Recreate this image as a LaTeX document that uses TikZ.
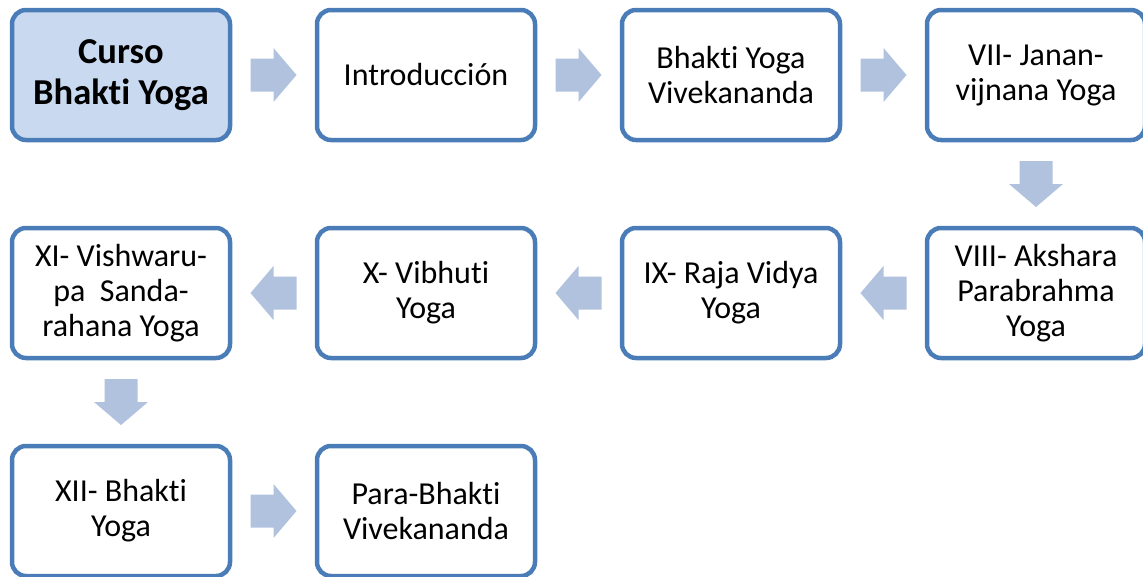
\documentclass[tikz,border=0pt]{standalone}
\usepackage{fontspec}
\setmainfont{Carlito}[Ligatures={NoCommon}]
\usetikzlibrary{calc}
\definecolor{boxline}{HTML}{4A7DB8}
\definecolor{boxfill}{HTML}{C9DAF0}
\definecolor{arrowfill}{HTML}{B1C2DE}
\tikzset{blockarrow/.pic={
        \fill[arrowfill] (-23,-16.5) -- (0,-16.5) -- (0,-27) -- (23,0) -- (0,27) -- (0,16.5) -- (-23,16.5) -- cycle;}}

\begin{document}
\begin{tikzpicture}[x=1pt,y=-1pt]
        \tikzstyle{every node}=[align=center,font=\fontsize{32}{35}\selectfont]
        \tikzstyle{box}=[draw=boxline,fill=white,line width=4.5pt,rounded corners=14pt,minimum width=218pt,minimum height=130pt,inner sep=0pt]
        \tikzstyle{first}=[box,fill=boxfill,font=\fontsize{36.5}{41}\selectfont\bfseries]
        \useasboundingbox (0,0) rectangle (1143,576);
        % first row
        \node[first] (curso) at (121,75) {Curso\\Bhakti Yoga};
        \node[box] (intro) at (426,75) {Introducción};
        \node[box] (viv) at (731,75) {Bhakti Yoga\\Vivekananda};
        \node[box] (vii) at (1036,75) {VII- Janan-\\vijnana Yoga};
        % second row
        \node[box] (viii) at (1036,293) {VIII- Akshara\\Parabrahma\\Yoga};
        \node[box] (ix) at (731,293) {IX- Raja Vidya\\Yoga};
        \node[box] (x) at (426,293) {X- Vibhuti\\Yoga};
        \node[box] (xi) at (121,293) {XI- Vishwaru-\\pa\ \ Sanda-\\rahana Yoga};
        % third row
        \node[box] (xii) at (121,511) {XII- Bhakti\\Yoga};
        \node[box] (para) at (426,511) {Para-Bhakti\\Vivekananda};
        % arrows
        \pic (a1) at ($(curso)!0.5!(intro)$) {blockarrow};
        \pic (a2) at ($(intro)!0.5!(viv)$) {blockarrow};
        \pic (a3) at ($(viv)!0.5!(vii)$) {blockarrow};
        \pic[rotate=-90] (a4) at ($(vii)!0.5!(viii)$) {blockarrow};
        \pic[rotate=180] (a5) at ($(viii)!0.5!(ix)$) {blockarrow};
        \pic[rotate=180] (a6) at ($(ix)!0.5!(x)$) {blockarrow};
        \pic[rotate=180] (a7) at ($(x)!0.5!(xi)$) {blockarrow};
        \pic[rotate=-90] (a8) at ($(xi)!0.5!(xii)$) {blockarrow};
        \pic (a9) at ($(xii)!0.5!(para)$) {blockarrow};
    \end{tikzpicture}
\end{document}
